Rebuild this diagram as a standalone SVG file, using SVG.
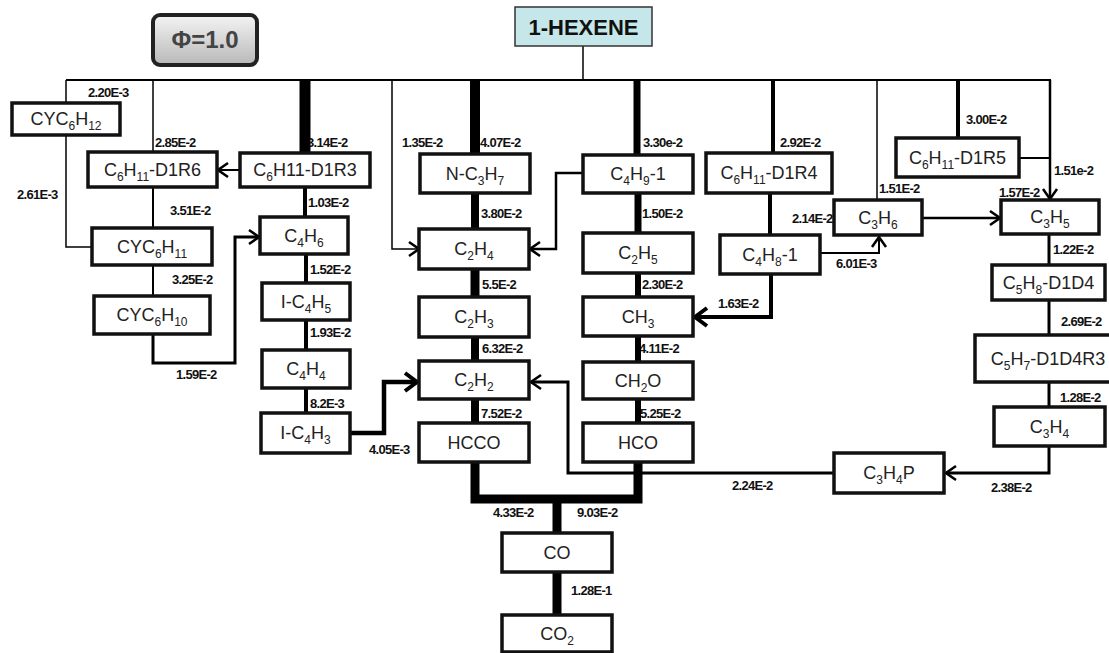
<svg xmlns="http://www.w3.org/2000/svg" width="1109" height="653" viewBox="0 0 1109 653">
<style>
.n rect{fill:#fff;stroke:#111;stroke-width:3.5}
.n text{font-family:"Liberation Sans",Arial,sans-serif;font-size:18px;fill:#222;text-anchor:middle}
.s{font-size:12px}
.c path{fill:none;stroke:#000;stroke-linejoin:miter}
.lb text{font-family:"Liberation Sans",Arial,sans-serif;font-size:13px;font-weight:bold;letter-spacing:-0.7px;fill:#111}
</style>
<defs>
<marker id="a" markerUnits="userSpaceOnUse" viewBox="-14 -10 16 20" markerWidth="16" markerHeight="20" refX="0" refY="0" orient="auto"><path d="M-10,-7 L0,0 L-10,7" fill="none" stroke="#000" stroke-width="2.5"/></marker>
<marker id="b" markerUnits="userSpaceOnUse" viewBox="-16 -12 18 24" markerWidth="18" markerHeight="24" refX="0" refY="0" orient="auto"><path d="M-12,-9 L0,0 L-12,9" fill="none" stroke="#000" stroke-width="4"/></marker>
<linearGradient id="g" x1="0" y1="0" x2="0" y2="1"><stop offset="0" stop-color="#f4f4f4"/><stop offset="1" stop-color="#b8b8b8"/></linearGradient>
</defs>

<g class="lb" id="labels">
<text x="88" y="97">2.20E-3</text>
<text x="155" y="147">2.85E-2</text>
<text x="307" y="147">3.14E-2</text>
<text x="17" y="199">2.61E-3</text>
<text x="308" y="207">1.03E-2</text>
<text x="170" y="215">3.51E-2</text>
<text x="402" y="147">1.35E-2</text>
<text x="480" y="147">4.07E-2</text>
<text x="643" y="147">3.30e-2</text>
<text x="481" y="218">3.80E-2</text>
<text x="642" y="218">1.50E-2</text>
<text x="780" y="147">2.92E-2</text>
<text x="966" y="124">3.00E-2</text>
<text x="1054" y="175">1.51e-2</text>
<text x="879" y="193">1.51E-2</text>
<text x="999" y="197">1.57E-2</text>
<text x="792" y="223">2.14E-2</text>
<text x="836" y="268">6.01E-3</text>
<text x="718" y="308">1.63E-2</text>
<text x="1053" y="254">1.22E-2</text>
<text x="1061" y="326">2.69E-2</text>
<text x="1060" y="402">1.28E-2</text>
<text x="172" y="284">3.25E-2</text>
<text x="310" y="274">1.52E-2</text>
<text x="310" y="337">1.93E-2</text>
<text x="176" y="379">1.59E-2</text>
<text x="310" y="408">8.2E-3</text>
<text x="482" y="289">5.5E-2</text>
<text x="642" y="289">2.30E-2</text>
<text x="482" y="353">6.32E-2</text>
<text x="639" y="353">4.11E-2</text>
<text x="481" y="418">7.52E-2</text>
<text x="640" y="418">5.25E-2</text>
<text x="369" y="454">4.05E-3</text>
<text x="493" y="517">4.33E-2</text>
<text x="577" y="517">9.03E-2</text>
<text x="571" y="595">1.28E-1</text>
<text x="732" y="490">2.24E-2</text>
<text x="991" y="492">2.38E-2</text>
</g>

<g class="c" id="connectors">
<path d="M583,46 V80" stroke-width="1.5"/>
<path d="M66,80 H1051" stroke-width="2"/>
<path d="M66,80 V103" stroke-width="1.5"/>
<path d="M66,135 V247 H92" stroke-width="1.5"/>
<path d="M153,80 V152" stroke-width="1.5"/>
<path d="M305,80 V153" stroke-width="11"/>
<path d="M392,80 V249 H419" stroke-width="1.5" marker-end="url(#a)"/>
<path d="M475,80 V154" stroke-width="10"/>
<path d="M637,80 V155" stroke-width="7"/>
<path d="M773,80 V153" stroke-width="4"/>
<path d="M877,80 V200" stroke-width="1.5"/>
<path d="M958,80 V138" stroke-width="4"/>
<path d="M1050,80 V199" stroke-width="2.5" marker-end="url(#a)"/>
<path d="M1019,158 H1050" stroke-width="2"/>
<path d="M240,170 H218" stroke-width="2" marker-end="url(#a)"/>
<path d="M153,187 V228" stroke-width="2"/>
<path d="M153,265 V296" stroke-width="2"/>
<path d="M153,334 V363 H235 V237 H259" stroke-width="3" marker-end="url(#a)"/>
<path d="M305,187 V217" stroke-width="4"/>
<path d="M306,254 V283" stroke-width="4"/>
<path d="M306,320 V350" stroke-width="4"/>
<path d="M306,388 V413" stroke-width="4"/>
<path d="M350,433 H384 V382 H417" stroke-width="4.5" marker-end="url(#b)"/>
<path d="M475,193 V229" stroke-width="8"/>
<path d="M475,269 V297" stroke-width="9"/>
<path d="M475,337 V361" stroke-width="8"/>
<path d="M475,399 V423" stroke-width="8"/>
<path d="M475,462 V499 H638 V462" stroke-width="9"/>
<path d="M557,499 V533" stroke-width="9"/>
<path d="M557,572 V615" stroke-width="9"/>
<path d="M583,173 H556 V249 H530" stroke-width="2.5" marker-end="url(#a)"/>
<path d="M638,193 V233" stroke-width="7"/>
<path d="M638,273 V297" stroke-width="6"/>
<path d="M638,336 V362" stroke-width="6"/>
<path d="M638,399 V423" stroke-width="6"/>
<path d="M770,193 V235" stroke-width="4"/>
<path d="M771,274 V317 H695" stroke-width="4" marker-end="url(#b)"/>
<path d="M820,253 H879 V237" stroke-width="2" marker-end="url(#a)"/>
<path d="M922,218 H1000" stroke-width="2.5" marker-end="url(#a)"/>
<path d="M1049,234 V265" stroke-width="3"/>
<path d="M1049,300 V335" stroke-width="3"/>
<path d="M1049,382 V407" stroke-width="3"/>
<path d="M1049,446 V473 H946" stroke-width="3" marker-end="url(#a)"/>
<path d="M834,473 H568 V382 H531" stroke-width="3" marker-end="url(#a)"/>
</g>

<g id="phi"><rect x="153" y="15" width="104" height="50" rx="7" fill="url(#g)" stroke="#222" stroke-width="4"/><text x="205" y="48" font-family="Liberation Sans,Arial,sans-serif" font-size="24" font-weight="bold" fill="#444" text-anchor="middle">Φ=1.0</text></g>
<g id="hexene"><rect x="515" y="7" width="137" height="39" fill="#c6e7e9" stroke="#333" stroke-width="1.5"/><text x="583.5" y="34.5" font-family="Liberation Sans,Arial,sans-serif" font-size="22" font-weight="bold" fill="#111" text-anchor="middle">1-HEXENE</text></g>

<g class="n" id="cyc6h12"><rect x="12" y="103" width="108" height="32"/><text x="66" y="125">CYC<tspan class="s" dy="5">6</tspan><tspan dy="-5">H</tspan><tspan class="s" dy="5">12</tspan></text></g>
<g class="n" id="d1r6"><rect x="88" y="152" width="129" height="35"/><text x="152.5" y="175.5">C<tspan class="s" dy="5">6</tspan><tspan dy="-5">H</tspan><tspan class="s" dy="5">11</tspan><tspan dy="-5">-D1R6</tspan></text></g>
<g class="n" id="d1r3"><rect x="240" y="153" width="130" height="34"/><text x="305" y="176">C<tspan class="s" dy="5">6</tspan><tspan dy="-5">H11-D1R3</tspan></text></g>
<g class="n" id="cyc6h11"><rect x="92" y="228" width="120" height="37"/><text x="152" y="252.5">CYC<tspan class="s" dy="5">6</tspan><tspan dy="-5">H</tspan><tspan class="s" dy="5">11</tspan></text></g>
<g class="n" id="cyc6h10"><rect x="94" y="296" width="116" height="38"/><text x="152" y="321">CYC<tspan class="s" dy="5">6</tspan><tspan dy="-5">H</tspan><tspan class="s" dy="5">10</tspan></text></g>
<g class="n" id="c4h6"><rect x="260" y="217" width="88" height="37"/><text x="304" y="241.5">C<tspan class="s" dy="5">4</tspan><tspan dy="-5">H</tspan><tspan class="s" dy="5">6</tspan></text></g>
<g class="n" id="ic4h5"><rect x="262" y="283" width="88" height="37"/><text x="306" y="307.5">I-C<tspan class="s" dy="5">4</tspan><tspan dy="-5">H</tspan><tspan class="s" dy="5">5</tspan></text></g>
<g class="n" id="c4h4"><rect x="262" y="350" width="88" height="38"/><text x="306" y="375">C<tspan class="s" dy="5">4</tspan><tspan dy="-5">H</tspan><tspan class="s" dy="5">4</tspan></text></g>
<g class="n" id="ic4h3"><rect x="261" y="413" width="89" height="40"/><text x="305.5" y="439">I-C<tspan class="s" dy="5">4</tspan><tspan dy="-5">H</tspan><tspan class="s" dy="5">3</tspan></text></g>
<g class="n" id="nc3h7"><rect x="420" y="154" width="110" height="39"/><text x="475" y="179.5">N-C<tspan class="s" dy="5">3</tspan><tspan dy="-5">H</tspan><tspan class="s" dy="5">7</tspan></text></g>
<g class="n" id="c2h4"><rect x="419" y="229" width="110" height="40"/><text x="474" y="255">C<tspan class="s" dy="5">2</tspan><tspan dy="-5">H</tspan><tspan class="s" dy="5">4</tspan></text></g>
<g class="n" id="c2h3"><rect x="419" y="297" width="110" height="40"/><text x="474" y="323">C<tspan class="s" dy="5">2</tspan><tspan dy="-5">H</tspan><tspan class="s" dy="5">3</tspan></text></g>
<g class="n" id="c2h2"><rect x="419" y="361" width="110" height="38"/><text x="474" y="386">C<tspan class="s" dy="5">2</tspan><tspan dy="-5">H</tspan><tspan class="s" dy="5">2</tspan></text></g>
<g class="n" id="hcco"><rect x="419" y="423" width="110" height="39"/><text x="474" y="448.5">HCCO</text></g>
<g class="n" id="c4h9"><rect x="583" y="155" width="110" height="38"/><text x="638" y="180">C<tspan class="s" dy="5">4</tspan><tspan dy="-5">H</tspan><tspan class="s" dy="5">9</tspan><tspan dy="-5">-1</tspan></text></g>
<g class="n" id="c2h5"><rect x="583" y="233" width="110" height="40"/><text x="638" y="259">C<tspan class="s" dy="5">2</tspan><tspan dy="-5">H</tspan><tspan class="s" dy="5">5</tspan></text></g>
<g class="n" id="ch3"><rect x="583" y="297" width="110" height="39"/><text x="638" y="322.5">CH<tspan class="s" dy="5">3</tspan></text></g>
<g class="n" id="ch2o"><rect x="583" y="362" width="110" height="37"/><text x="638" y="386.5">CH<tspan class="s" dy="5">2</tspan><tspan dy="-5">O</tspan></text></g>
<g class="n" id="hco"><rect x="583" y="423" width="110" height="39"/><text x="638" y="448.5">HCO</text></g>
<g class="n" id="co"><rect x="502" y="533" width="110" height="39"/><text x="557" y="558.5">CO</text></g>
<g class="n" id="co2"><rect x="502" y="615" width="110" height="37"/><text x="557" y="639.5">CO<tspan class="s" dy="5">2</tspan></text></g>
<g class="n" id="d1r4"><rect x="706" y="153" width="126" height="40"/><text x="769" y="179">C<tspan class="s" dy="5">6</tspan><tspan dy="-5">H</tspan><tspan class="s" dy="5">11</tspan><tspan dy="-5">-D1R4</tspan></text></g>
<g class="n" id="c4h8"><rect x="720" y="235" width="100" height="39"/><text x="770" y="260.5">C<tspan class="s" dy="5">4</tspan><tspan dy="-5">H</tspan><tspan class="s" dy="5">8</tspan><tspan dy="-5">-1</tspan></text></g>
<g class="n" id="c3h6"><rect x="834" y="200" width="88" height="35"/><text x="878" y="223.5">C<tspan class="s" dy="5">3</tspan><tspan dy="-5">H</tspan><tspan class="s" dy="5">6</tspan></text></g>
<g class="n" id="d1r5"><rect x="896" y="138" width="123" height="39"/><text x="957.5" y="163.5">C<tspan class="s" dy="5">6</tspan><tspan dy="-5">H</tspan><tspan class="s" dy="5">11</tspan><tspan dy="-5">-D1R5</tspan></text></g>
<g class="n" id="c3h5"><rect x="1001" y="200" width="98" height="34"/><text x="1050" y="223">C<tspan class="s" dy="5">3</tspan><tspan dy="-5">H</tspan><tspan class="s" dy="5">5</tspan></text></g>
<g class="n" id="c5h8"><rect x="992" y="265" width="113" height="35"/><text x="1048.5" y="288.5">C<tspan class="s" dy="5">5</tspan><tspan dy="-5">H</tspan><tspan class="s" dy="5">8</tspan><tspan dy="-5">-D1D4</tspan></text></g>
<g class="n" id="c5h7"><rect x="975" y="335" width="145" height="47"/><text x="1048" y="364.5">C<tspan class="s" dy="5">5</tspan><tspan dy="-5">H</tspan><tspan class="s" dy="5">7</tspan><tspan dy="-5">-D1D4R3</tspan></text></g>
<g class="n" id="c3h4"><rect x="994" y="407" width="111" height="39"/><text x="1049.5" y="432.5">C<tspan class="s" dy="5">3</tspan><tspan dy="-5">H</tspan><tspan class="s" dy="5">4</tspan></text></g>
<g class="n" id="c3h4p"><rect x="834" y="453" width="110" height="40"/><text x="889" y="479">C<tspan class="s" dy="5">3</tspan><tspan dy="-5">H</tspan><tspan class="s" dy="5">4</tspan><tspan dy="-5">P</tspan></text></g>
</svg>
